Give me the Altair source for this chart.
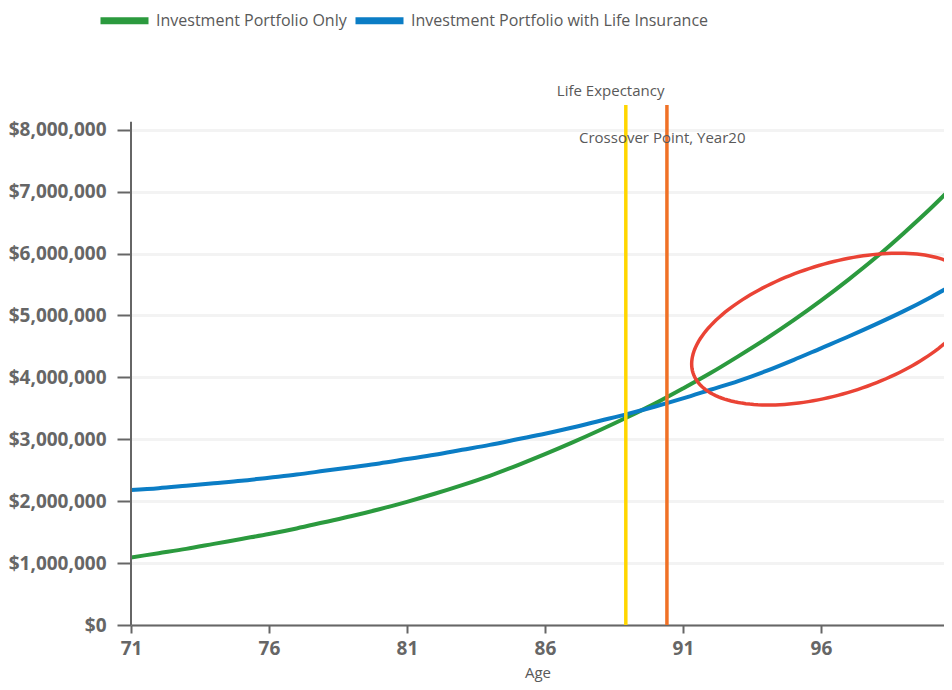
import altair as alt
import pandas as pd
import numpy as np

# ---------------- data ----------------
ages = list(range(71, 102))
portfolio_only = [1.09, 1.16, 1.23, 1.31, 1.39, 1.47, 1.56, 1.66, 1.76, 1.87,
                  1.99, 2.12, 2.26, 2.41, 2.58, 2.76, 2.95, 3.15, 3.36, 3.58,
                  3.82, 4.07, 4.34, 4.62, 4.92, 5.24, 5.58, 5.94, 6.33, 6.74, 7.18]
with_insurance = [2.18, 2.21, 2.25, 2.29, 2.33, 2.38, 2.43, 2.49, 2.55, 2.61,
                  2.68, 2.75, 2.83, 2.91, 3.00, 3.09, 3.19, 3.30, 3.41, 3.53,
                  3.66, 3.80, 3.94, 4.10, 4.28, 4.47, 4.66, 4.86, 5.07, 5.30, 5.55]
series_names = ["Investment Portfolio Only", "Investment Portfolio with Life Insurance"]
series_colors = ["#2b9a3e", "#0b7dc5"]

x_ticks = [71, 76, 81, 86, 91, 96]
y_ticks = [0, 1e6, 2e6, 3e6, 4e6, 5e6, 6e6, 7e6, 8e6]

AGE_MIN, AGE_MAX = 71, 100.46
Y_MAX = 8.4e6
Y_AXIS_TOP = 8.13e6

rule_ages = [88.93, 90.42]
rule_colors = ["#ffd600", "#f07126"]

annot_text = ["Life Expectancy", "Crossover Point, Year20"]
annot_age = [88.38, 90.25]
annot_val = [8.62e6, 7.87e6]

# highlight ellipse (annotation) parameters
W, H = 813, 520
PX_PER_YEAR = W / (AGE_MAX - AGE_MIN)
PX_PER_M = H / (Y_MAX / 1e6)
ELL_CX, ELL_CY = 96.45, 4.78e6
ELL_A, ELL_B, ELL_TILT = 147, 65, np.deg2rad(17.3)

# ---------------- tables ----------------
rows = []
for name, vals in zip(series_names, [portfolio_only, with_insurance]):
    for a, v in zip(ages, vals):
        rows.append({"age": a, "value": v * 1e6, "series": name})
lines_df = pd.DataFrame(rows)

rules_df = pd.DataFrame({"age": rule_ages, "color": rule_colors,
                         "y0": [0, 0], "y1": [Y_MAX, Y_MAX]})
annot_df = pd.DataFrame({"text": annot_text, "age": annot_age, "value": annot_val})
axis_df = pd.DataFrame({"age": [AGE_MIN], "y0": [0], "y1": [Y_AXIS_TOP]})

phi = np.linspace(0, 2 * np.pi, 181)
dx = ELL_A * np.cos(phi) * np.cos(ELL_TILT) - ELL_B * np.sin(phi) * np.sin(ELL_TILT)
dy = ELL_A * np.cos(phi) * np.sin(ELL_TILT) + ELL_B * np.sin(phi) * np.cos(ELL_TILT)
ell_df = pd.DataFrame({"age": ELL_CX + dx / PX_PER_YEAR,
                       "value": ELL_CY + dy / PX_PER_M * 1e6,
                       "i": np.arange(len(phi))})

FONT = "Open Sans"
TXT = "#595959"

xscale = alt.Scale(domain=[AGE_MIN, AGE_MAX], nice=False, zero=False)
yscale = alt.Scale(domain=[0, Y_MAX], nice=False)

base_x = alt.X("age:Q", scale=xscale,
               axis=alt.Axis(values=x_ticks, title="Age", format="d",
                             grid=False, tickSize=8, tickWidth=2, tickColor="#666",
                             domainColor="#666", domainWidth=2, labelFlush=False,
                             labelFont=FONT, labelFontSize=19, labelFontWeight="bold",
                             labelColor="#666", labelPadding=6,
                             titleFont=FONT, titleFontSize=15, titleFontWeight="normal",
                             titleColor=TXT, titlePadding=7))
base_y = alt.Y("value:Q", scale=yscale,
               axis=alt.Axis(values=y_ticks, title=None, format="$,.0f",
                             grid=True, gridColor="#f3f3f3", gridWidth=3,
                             domain=False, tickSize=14, tickWidth=2, tickColor="#666",
                             labelFont=FONT, labelFontSize=19, labelFontWeight="bold",
                             labelColor="#666", labelPadding=11, labelFlush=False))

lines = alt.Chart(lines_df).mark_line(strokeWidth=4, clip=True, interpolate="monotone").encode(
    x=base_x,
    y=base_y,
    color=alt.Color("series:N",
                    scale=alt.Scale(domain=series_names, range=series_colors),
                    legend=alt.Legend(title=None, orient="none", direction="horizontal",
                                      legendX=-34, legendY=-112,
                                      symbolType="stroke", symbolSize=2304,
                                      symbolStrokeWidth=7, labelFont=FONT,
                                      labelFontSize=16, labelColor=TXT, labelLimit=0,
                                      labelOffset=4, columnPadding=-6)),
)

yaxis_line = alt.Chart(axis_df).mark_rule(color="#666", strokeWidth=2).encode(
    x="age:Q", y="y0:Q", y2="y1:Q")

rules = alt.Chart(rules_df).mark_rule(strokeWidth=3.5).encode(
    x="age:Q", y="y0:Q", y2="y1:Q",
    color=alt.Color("color:N", scale=None, legend=None))

ellipse = alt.Chart(ell_df).mark_line(color="#ea4335", strokeWidth=3.5, clip=True).encode(
    x="age:Q", y="value:Q", order="i:Q")

annots = alt.Chart(annot_df).mark_text(font=FONT, fontSize=15, color=TXT,
                                       align="center", baseline="middle").encode(
    x="age:Q", y="value:Q", text="text:N")

chart = alt.layer(lines, yaxis_line, rules, ellipse, annots).properties(
    width=W, height=H,
    autosize=alt.AutoSizeParams(type="none"),
    padding={"left": 123, "top": 97, "right": 0, "bottom": 57},
).configure_view(stroke=None)

chart.save("out.html", embed_options={"renderer": "svg", "actions": False})
